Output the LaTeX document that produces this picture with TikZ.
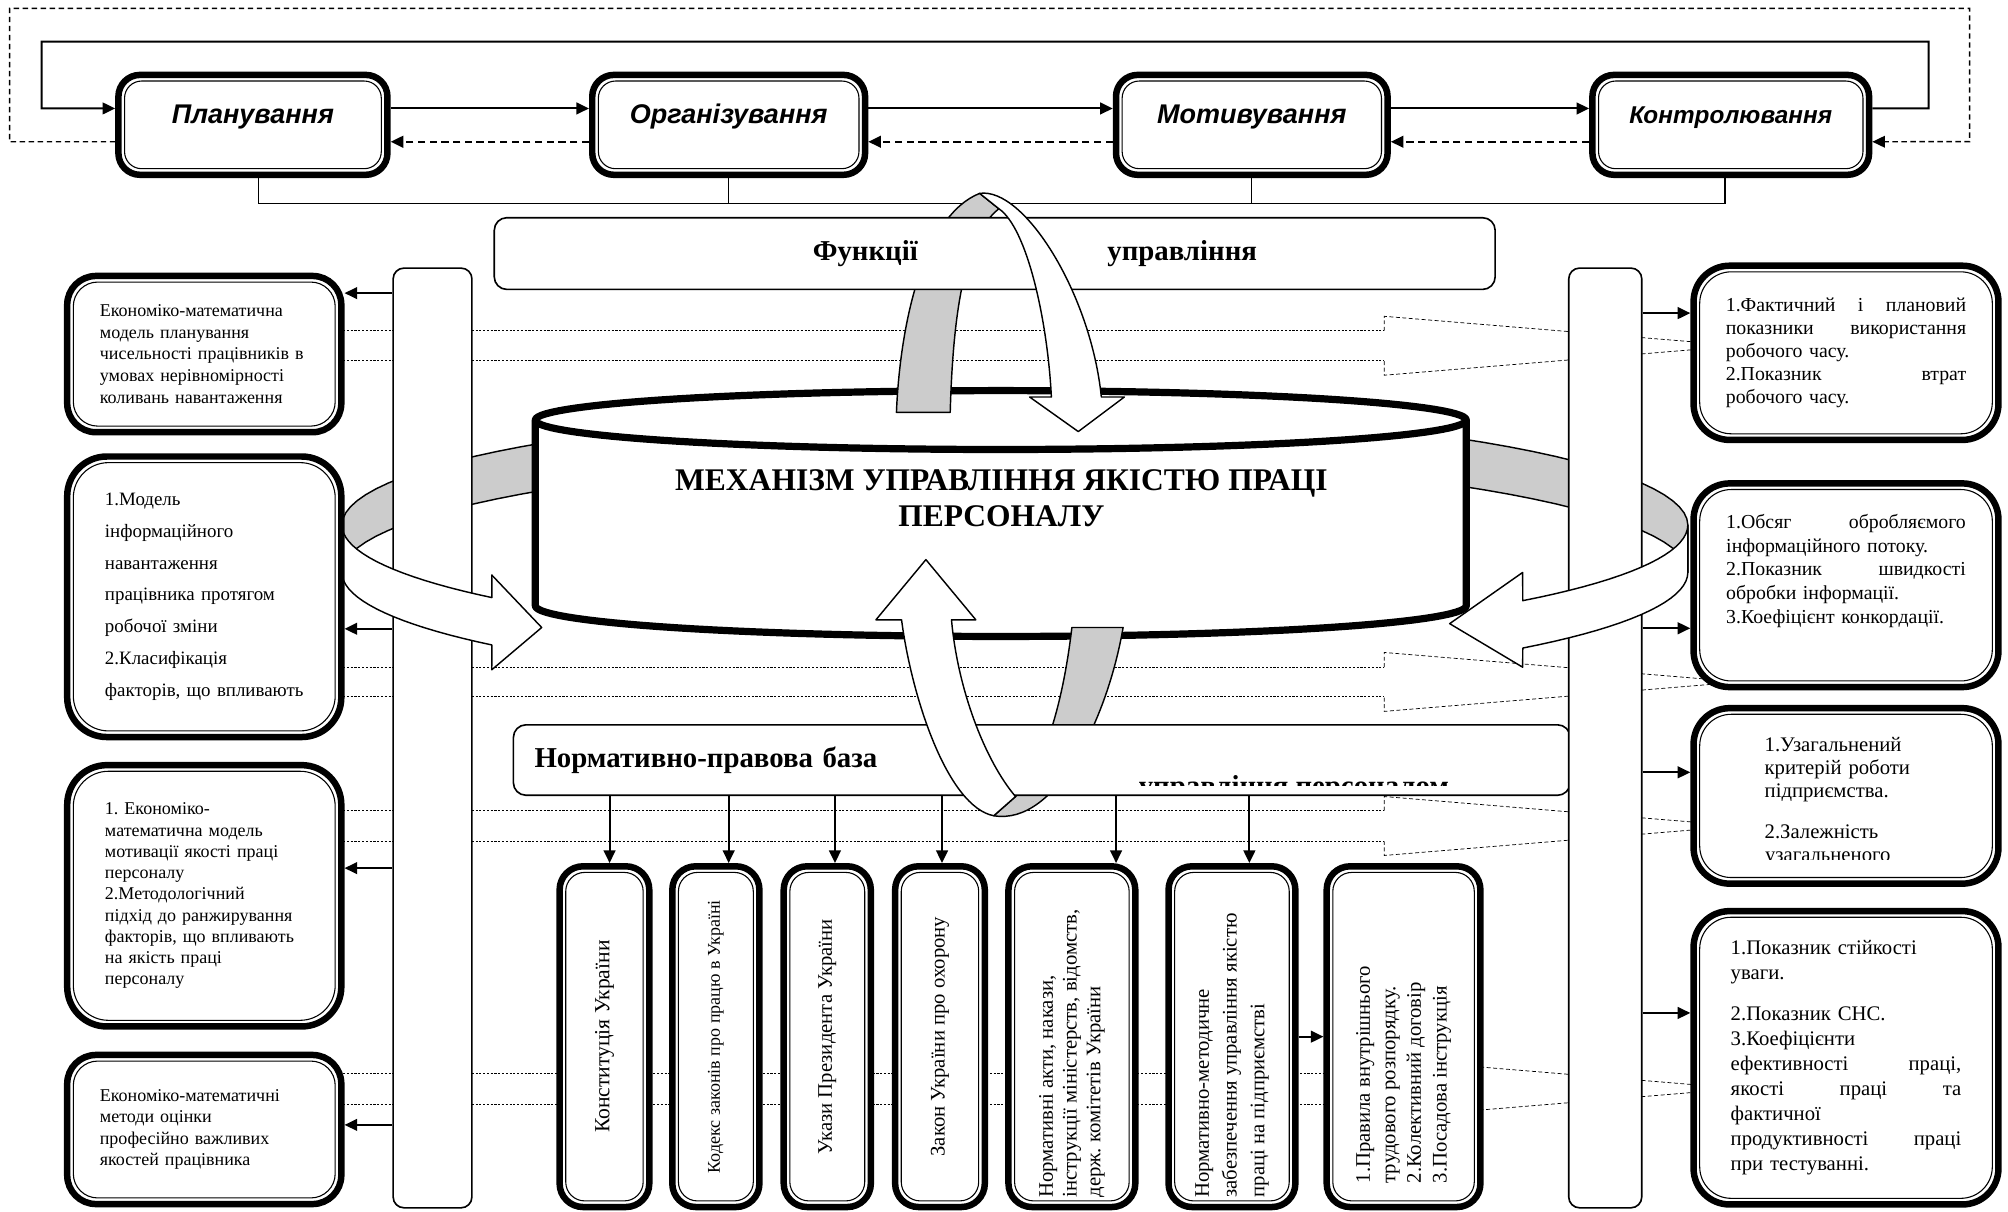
\documentclass[tikz,border=0pt]{standalone}
\usepackage{fontspec}
\usepackage{graphicx}
\setmainfont{Liberation Serif}
\newfontfamily\headsans{Liberation Sans}
\usetikzlibrary{arrows.meta, calc}
% hollow dashed arrow: #1 = centre y, #2 = half gap of the shaft
\newcommand{\hollowarr}[2]{%
  \draw[dotln] (265,#1-#2) -- (1081,#1-#2);
  \draw[dotln] (265,#1+#2) -- (1081,#1+#2);
  \draw[dashln] (1081,#1-#2) -- (1081,#1-23) -- (1359,#1) -- (1081,#1+23) -- (1081,#1+#2);}

\begin{document}
\frenchspacing
\begin{tikzpicture}[x=0.025cm, y=-0.025cm, >={Triangle[length=7pt,width=6.5pt]},
    dbl/.style={draw, line width=3.6pt, fill=white, rounded corners=#1,
      path picture={\draw[line width=0.6pt, fill=none, rounded corners=#1-2.5pt]
        ([shift={(3.4pt,3.4pt)}]path picture bounding box.south west) rectangle
        ([shift={(-3.4pt,-3.4pt)}]path picture bounding box.north east);}},
    fbox/.style={dbl=12pt, minimum height=1.95cm, text height=10pt, text depth=11.6pt,
      font=\headsans\bfseries\itshape\fontsize{15}{17}\selectfont},
    lbox/.style={dbl=16pt, minimum width=5.35cm, align=left},
    rbox/.style={dbl=20pt, minimum width=5.95cm, align=left},
    nbox/.style={dbl=13pt, minimum height=6.65cm, inner sep=0pt},
    thinbox/.style={draw, line width=0.9pt, fill=white, rounded corners=7pt},
    arr/.style={->, line width=1.1pt},
    darr/.style={->, line width=1.1pt, dash pattern=on 4pt off 2.5pt},
    loopdash/.style={->, line width=0.8pt, dash pattern=on 3pt off 2pt},
    bus/.style={line width=0.6pt},
    dotln/.style={line width=0.4pt, dash pattern=on 1.2pt off 0.9pt},
    dashln/.style={line width=0.4pt, dash pattern=on 2.2pt off 1.4pt},
    gband/.style={draw, line width=0.8pt, fill=gray!40, line join=round},
    wband/.style={draw, line width=0.8pt, fill=white, line join=round},
    cyl/.style={draw, line width=4pt, line join=round}]

  \useasboundingbox (0,0) rectangle (1568,946);

  % --- hollow dashed arrows (behind everything) ---
  \hollowarr{270}{11.75}
  \hollowarr{532.5}{11.5}
  \hollowarr{645}{12}
  \hollowarr{850}{12}

  % --- ring, back half ---
  \filldraw[gband] plot[domain=180:360, samples=60] ({792.5+525.5*cos(\x)},{410+90*sin(\x)})
    -- plot[domain=360:180, samples=60] ({792.5+525.5*cos(\x)},{447+90*sin(\x)}) -- cycle;

  % --- cylinder ---
  \filldraw[cyl, fill=white] plot[domain=180:360, samples=60] ({781.5+363.5*cos(\x)},{328+23*sin(\x)})
    -- plot[domain=0:180, samples=60] ({781.5+363.5*cos(\x)},{473+24*sin(\x)}) -- cycle;
  \draw[cyl] plot[domain=0:180, samples=60] ({781.5+363.5*cos(\x)},{328+23*sin(\x)});
  \node[align=center, font=\bfseries\fontsize{17.5}{20}\selectfont] (mech) at (782,389)
    {МЕХАНІЗМ УПРАВЛІННЯ ЯКІСТЮ ПРАЦІ\\ПЕРСОНАЛУ};

  % --- management functions ---
  \node[fbox, minimum width=5.25cm] (plan) at (197.5,97.5) {Планування};
  \node[fbox, minimum width=5.325cm] (org) at (569,97.5) {Організування};
  \node[fbox, minimum width=5.3cm] (motiv) at (977.5,97.5) {Мотивування};
  \node[fbox, minimum width=5.4cm, font=\headsans\bfseries\itshape\fontsize{13.5}{16}\selectfont]
    (ctrl) at (1351.5,97.5) {Контролювання};

  \draw[arr] ([yshift=3.2mm]plan.east) -- ([yshift=3.2mm]org.west);
  \draw[arr] ([yshift=3.2mm]org.east) -- ([yshift=3.2mm]motiv.west);
  \draw[arr] ([yshift=3.2mm]motiv.east) -- ([yshift=3.2mm]ctrl.west);
  \draw[darr] ([yshift=-3.3mm]org.west) -- ([yshift=-3.3mm]plan.east);
  \draw[darr] ([yshift=-3.3mm]motiv.west) -- ([yshift=-3.3mm]org.east);
  \draw[darr] ([yshift=-3.3mm]ctrl.west) -- ([yshift=-3.3mm]motiv.east);
  \draw[arr] ([yshift=3.2mm]ctrl.east) -| (1506,32.5) -| (32.5,84.6) -- ([yshift=3.2mm]plan.west);
  \draw[loopdash] ([yshift=-3.3mm]plan.west) -| (7.5,6.5) -| (1538,110.6) -- ([yshift=-3.3mm]ctrl.east);

  \coordinate (busl) at (202,159);
  \coordinate (busr) at (1347,159);
  \draw[bus] (plan.south -| busl) -- (busl) -- (busr) -- (ctrl.south -| busr);
  \draw[bus] (org.south) -- (org.south |- busl);
  \draw[bus] (motiv.south) -- (motiv.south |- busl);

  % --- U arrows, grey parts ---
  \filldraw[gband] (700,322) .. controls (703,250) and (722,168) .. (765,151) -- (780,163)
    .. controls (752,185) and (744,250) .. (742,322) -- cycle;
  \filldraw[gband] (837,490) .. controls (830,550) and (815,600) .. (793,622) -- (776,637)
    .. controls (825,645) and (865,560) .. (877,490) -- cycle;

  % --- bands ---
  \node[thinbox, minimum width=19.51cm, minimum height=1.4cm, text width=19.3cm, align=left,
    font=\bfseries\fontsize{16}{18}\selectfont] (func) at (776.75,198)
    {\hspace*{6.1cm}Функції\hspace{3.7cm}управління};
  \node[thinbox, minimum width=20.625cm, minimum height=1.375cm, text width=19.8cm, align=left,
    font=\bfseries\fontsize{16}{18}\selectfont] (norm) at (813.5,593.5) {Нормативно-правова база};
  \begin{scope}
    \clip (880,598) rectangle (1150,613.3);
    \node[anchor=base west, inner sep=0pt, font=\bfseries\fontsize{16}{18}\selectfont]
      (mgmt) at (889,621) {управління персоналом};
  \end{scope}

  % --- U arrows, white parts ---
  \filldraw[wband] (765,151) .. controls (800,146) and (852,230) .. (860,310) -- (878,310)
    -- (842,337) -- (804,310) -- (821,310) .. controls (818,250) and (802,178) .. (780,163) -- cycle;
  \filldraw[wband] (723,437) -- (762,484) -- (743,484) .. controls (748,540) and (770,595) .. (793,622)
    -- (776,637) .. controls (740,630) and (712,545) .. (704,484) -- (684,484) -- cycle;

  % --- bars ---
  \node[thinbox, rounded corners=6pt, minimum width=1.5375cm, minimum height=18.34cm] (lbar) at (337.75,576.25) {};
  \node[thinbox, rounded corners=6pt, minimum width=1.425cm, minimum height=18.34cm] (rbar) at (1253.5,576.25) {};

  % --- ring, front arrows ---
  \filldraw[wband] plot[domain=180:141, samples=20] ({792.5+525.5*cos(\x)},{410+90*sin(\x)})
    -- (384,449) -- (423,490) -- (384,523)
    -- plot[domain=141:180, samples=20] ({792.5+525.5*cos(\x)},{447+90*sin(\x)}) -- cycle;
  \filldraw[wband] plot[domain=0:41, samples=20] ({792.5+525.5*cos(\x)},{410+90*sin(\x)})
    -- (1189,447) -- (1132,487) -- (1189,521)
    -- plot[domain=41:0, samples=20] ({792.5+525.5*cos(\x)},{447+90*sin(\x)}) -- cycle;

  % --- left boxes ---
  \node[lbox, minimum height=3.05cm, text width=4.075cm, font=\fontsize{10}{12.1}\selectfont]
    (l1) at (159.5,276.5)
    {Економіко-математична\\модель планування\\чисельності працівників в\\умовах нерівномірності\\коливань навантаження};
  \node[lbox, dbl=22pt, minimum height=5.475cm, text width=3.875cm, font=\fontsize{10.5}{17.6}\selectfont]
    (l2) at (159.5,466)
    {1.Модель\\інформаційного\\навантаження\\працівника протягом\\робочої зміни\\2.Класифікація\\факторів, що впливають};
  \node[lbox, dbl=22pt, minimum height=5.1cm, text width=3.875cm, font=\fontsize{10}{11.8}\selectfont]
    (l3) at (159.5,699.5)
    {1. Економіко-\\математична модель\\мотивації якості праці\\персоналу\\2.Методологічний\\підхід до ранжирування\\факторів, що впливають\\на якість праці\\персоналу};
  \node[lbox, minimum height=2.91cm, text width=4.075cm, font=\fontsize{10}{11.8}\selectfont]
    (l4) at (159.5,882)
    {Економіко-математичні\\методи оцінки\\професійно важливих\\якостей працівника};

  \draw[arr] ([yshift=1.19cm]l1.east -| lbar.west) -- ([yshift=1.19cm]l1.east);
  \draw[arr] ([yshift=-0.625cm]l2.east -| lbar.west) -- ([yshift=-0.625cm]l2.east);
  \draw[arr] ([yshift=0.54cm]l3.east -| lbar.west) -- ([yshift=0.54cm]l3.east);
  \draw[arr] ([yshift=0.09cm]l4.east -| lbar.west) -- ([yshift=0.09cm]l4.east);

  % --- right boxes ---
  \node[rbox, minimum height=3.4cm, text width=4.69cm, font=\fontsize{11}{12.8}\selectfont]
    (r1) at (1441.5,275.5)
    {1.Фактичний\hfill і\hfill плановий\\показники\hfill використання\\робочого часу.\\2.Показник\hfill втрат\\робочого часу.};
  \node[rbox, minimum height=3.975cm, text width=4.675cm, font=\fontsize{11}{13.2}\selectfont]
    (r2) at (1441.5,457)
    {1.Обсяг\hfill обробляємого\\інформаційного потоку.\\2.Показник\hfill швидкості\\обробки інформації.\\3.Коефіцієнт конкордації.\\[5pt]\mbox{}};
  \node[rbox, minimum height=3.425cm, text width=3.175cm, font=\fontsize{11.5}{12.8}\selectfont]
    (r3) at (1441.5,621.5)
    {1.Узагальнений\\критерій роботи\\підприємства.\\[10pt]2.Залежність\\[-4pt]\mbox{}};
  \begin{scope}
    \clip (1370,655) rectangle (1520,671);
    \node[anchor=base west, inner sep=0pt, font=\fontsize{11.5}{12.8}\selectfont]
      (r3cut) at (1378,673) {узагальненого};
  \end{scope}
  \node[rbox, minimum height=5.725cm, text width=4.5cm, font=\fontsize{11.5}{13.9}\selectfont]
    (r4) at (1441.5,826)
    {1.Показник стійкості\\уваги.\\[8.5pt]2.Показник СНС.\\3.Коефіцієнти\\ефективності\hfill праці,\\якості\hfill праці\hfill та\\фактичної\\продуктивності\hfill праці\\при тестуванні.};

  \draw[arr] ([yshift=0.775cm]r1.west -| rbar.east) -- ([yshift=0.775cm]r1.west);
  \draw[arr] ([yshift=-0.84cm]r2.west -| rbar.east) -- ([yshift=-0.84cm]r2.west);
  \draw[arr] ([yshift=0.46cm]r3.west -| rbar.east) -- ([yshift=0.46cm]r3.west);
  \draw[arr] ([yshift=0.875cm]r4.west -| rbar.east) -- ([yshift=0.875cm]r4.west);

  % --- legal base documents ---
  \node[nbox, minimum width=1.75cm] (b1) at (472,809.5)
    {\rotatebox{90}{\fontsize{12}{14}\selectfont Конституція України}};
  \node[nbox, minimum width=1.7cm] (b2) at (559,809.5)
    {\rotatebox{90}{\fontsize{10}{12}\selectfont Кодекс законів про працю в Україні}};
  \node[nbox, minimum width=1.7cm] (b3) at (646,809.5)
    {\rotatebox{90}{\fontsize{11.5}{13}\selectfont Укази Президента України}};
  \node[nbox, minimum width=1.75cm] (b4) at (734,809.5)
    {\rotatebox{90}{\fontsize{11.5}{13}\selectfont Закон України про охорону}};
  \node[nbox, minimum width=2.475cm] (b5) at (837,809.5)
    {\rotatebox{90}{\parbox{6.275cm}{\fontsize{11.5}{13.2}\selectfont\raggedright
      Нормативні акти, накази,\\інструкції міністерств, відомств,\\держ. комітетів України}}};
  \node[nbox, minimum width=2.475cm] (b6) at (962,809.5)
    {\rotatebox{90}{\parbox{6.275cm}{\fontsize{11.5}{15.4}\selectfont\raggedright
      Нормативно-методичне\\забезпечення управління якістю\\праці на підприємстві}}};
  \node[nbox, minimum width=3.0cm] (b7) at (1096,809.5)
    {\rotatebox{90}{\parbox{5.725cm}{\fontsize{11.5}{14.2}\selectfont\raggedright
      1.Правила внутрішнього\\трудового розпорядку.\\2.Колективний договір\\3.Посадова інструкція}}};

  \draw[arr] ([xshift=0.1cm]b1.north |- norm.south) -- ([xshift=0.1cm]b1.north);
  \draw[arr] ([xshift=0.25cm]b2.north |- norm.south) -- ([xshift=0.25cm]b2.north);
  \draw[arr] ([xshift=0.15cm]b3.north |- norm.south) -- ([xshift=0.15cm]b3.north);
  \draw[arr] ([xshift=0.04cm]b4.north |- norm.south) -- ([xshift=0.04cm]b4.north);
  \draw[arr] ([xshift=0.8625cm]b5.north |- norm.south) -- ([xshift=0.8625cm]b5.north);
  \draw[arr] ([xshift=0.34cm]b6.north |- norm.south) -- ([xshift=0.34cm]b6.north);
  \draw[arr] (b6.east) -- (b7.west);
\end{tikzpicture}
\end{document}
